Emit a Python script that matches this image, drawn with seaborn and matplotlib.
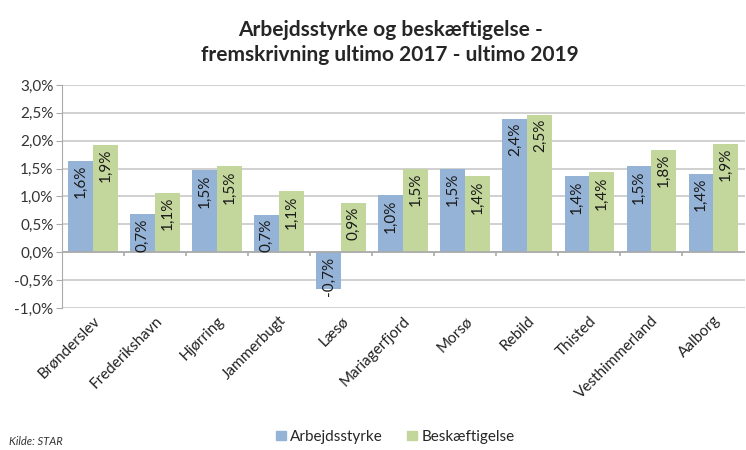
import pandas as pd
import matplotlib
matplotlib.use("Agg")
import matplotlib.pyplot as plt
import seaborn as sns

# data (percent)
kommuner = ["Brønderslev", "Frederikshavn", "Hjørring", "Jammerbugt", "Læsø",
            "Mariagerfjord", "Morsø", "Rebild", "Thisted", "Vesthimmerland", "Aalborg"]
arbejdsstyrke = [1.64, 0.68, 1.47, 0.67, -0.66, 1.02, 1.49, 2.39, 1.36, 1.54, 1.41]
beskaeftigelse = [1.92, 1.06, 1.54, 1.09, 0.88, 1.49, 1.36, 2.46, 1.43, 1.84, 1.94]
serier = ["Arbejdsstyrke", "Beskæftigelse"]
y_ticks = [-1.0, -0.5, 0.0, 0.5, 1.0, 1.5, 2.0, 2.5, 3.0]

df = pd.DataFrame({"Kommune": kommuner * 2,
                   "Serie": [serier[0]] * len(kommuner) + [serier[1]] * len(kommuner),
                   "Vaerdi": arbejdsstyrke + beskaeftigelse})

sns.set_style("white")
plt.rcParams['font.family'] = ['Lato', 'DejaVu Sans']

fig = plt.figure(figsize=(7.46, 4.5), dpi=100)
ax = fig.add_axes([0.083, 0.3156, 0.915, 0.4956])

farver = {"Arbejdsstyrke": "#95B3D7", "Beskæftigelse": "#C3D69B"}
sns.barplot(data=df, x="Kommune", y="Vaerdi", hue="Serie", palette=farver,
            width=0.8, ax=ax, legend=False, saturation=1, edgecolor="none", linewidth=0)

# labels inside bar ends, rotated
for cont in ax.containers:
    for bar in cont:
        v = bar.get_height()
        x = bar.get_x() + bar.get_width() / 2
        txt = f"{v:.1f}%".replace(".", ",")
        if v >= 0:
            ax.text(x, v - 0.07, txt, rotation=90, ha="center", va="top", fontsize=11, color="#1a1a1a")
        else:
            ax.text(x, v - 0.12, txt, rotation=90, ha="center", va="bottom", fontsize=11, color="#1a1a1a")

ax.set_ylim(-1.0, 3.0)
ax.set_xlim(-0.5, len(kommuner) - 0.5)
ax.set_yticks(y_ticks)
ax.set_yticklabels([f"{t:.1f}%".replace(".", ",") for t in y_ticks], fontsize=11, color="#333333")
ax.yaxis.grid(True, color="#C8C8C8", lw=1.2)
ax.set_axisbelow(True)
ax.tick_params(axis="y", length=4, color="#AAAAAA", left=True, pad=2)
ax.tick_params(axis="x", length=0, pad=4)
ax.set_xticks(range(len(kommuner)))
ax.set_xticklabels(kommuner, rotation=45, ha="right", rotation_mode="anchor", fontsize=11, color="#222222")
ax.set_xlabel("")
ax.set_ylabel("")
for s in ["top", "right", "bottom"]:
    ax.spines[s].set_visible(False)
ax.spines["left"].set_color("#AAAAAA")

# category axis at zero with boundary ticks
ax.axhline(0, color="#AAAAAA", lw=1.2, zorder=1)
ax.vlines([i + 0.5 for i in range(len(kommuner) - 1)], -0.07, 0, color="#AAAAAA", lw=1.2)

fig.text(0.523, 0.955, "Arbejdsstyrke og beskæftigelse -\nfremskrivning ultimo 2017 - ultimo 2019",
         ha="center", va="top", fontsize=15, fontweight="bold", linespacing=1.3)

handles = [plt.Rectangle((0, 0), 1, 1, color=farver[s]) for s in serier]
fig.legend(handles, serier, loc="center", bbox_to_anchor=(0.53, 0.029), ncol=2, frameon=False,
           fontsize=11, handlelength=0.6, handleheight=0.6, handletextpad=0.3, columnspacing=1.6)

fig.text(0.012, 0.006, "Kilde: STAR", ha="left", va="bottom", fontsize=8, style="italic", color="#333333")

fig.savefig("out.png", dpi=100)
